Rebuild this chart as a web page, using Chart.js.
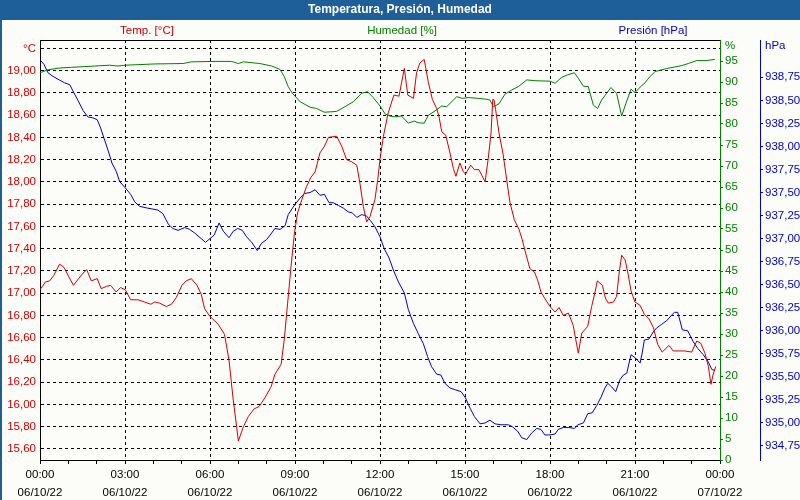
<!DOCTYPE html>
<html>
<head>
<meta charset="utf-8">
<script src="https://cdn.jsdelivr.net/npm/chart.js@4"></script>
<style>
  html, body { margin: 0; padding: 0; background: #fcfdf8; }
  canvas { display: block; }
</style>
</head>
<body>
<canvas id="chart" width="800" height="500"></canvas>
<script>
// hours since 00:00 06/10/22 and values
var tempHours = [0.00,0.19,0.34,0.49,0.69,0.85,1.01,1.18,1.36,1.52,1.65,1.81,2.02,2.16,2.34,2.49,2.69,2.84,3.01,3.20,3.46,3.69,3.91,4.05,4.22,4.46,4.64,4.81,5.01,5.16,5.34,5.54,5.69,5.81,6.00,6.29,6.51,6.67,6.82,6.94,7.00,7.18,7.35,7.56,7.73,7.94,8.16,8.29,8.51,8.62,8.74,8.86,8.98,9.09,9.24,9.41,9.56,9.71,9.88,10.04,10.18,10.47,10.65,10.82,11.00,11.18,11.29,11.41,11.53,11.65,11.82,11.92,12.00,12.12,12.29,12.49,12.67,12.76,12.86,12.98,13.18,13.29,13.41,13.56,13.71,13.85,14.00,14.08,14.18,14.32,14.47,14.59,14.68,14.82,14.94,15.02,15.20,15.33,15.49,15.59,15.71,15.82,15.92,15.98,16.02,16.08,16.20,16.35,16.47,16.59,16.74,16.91,17.02,17.14,17.29,17.45,17.56,17.68,17.82,18.00,18.18,18.32,18.47,18.65,18.82,18.91,19.00,19.12,19.33,19.47,19.59,19.67,19.85,19.96,20.06,20.24,20.35,20.44,20.53,20.65,20.75,20.86,21.00,21.18,21.33,21.49,21.65,21.80,21.96,22.20,22.35,22.76,23.00,23.18,23.32,23.47,23.59,23.68,23.76,23.85];
var tempValues = [17.03,17.10,17.11,17.16,17.26,17.23,17.15,17.07,17.13,17.18,17.21,17.11,17.13,17.04,17.06,17.07,17.01,17.05,17.03,16.94,16.94,16.92,16.90,16.92,16.91,16.88,16.90,16.96,17.07,17.11,17.13,17.07,16.99,16.86,16.79,16.72,16.63,16.40,16.04,15.80,15.67,15.80,15.89,15.96,15.98,16.06,16.16,16.27,16.36,16.58,16.91,17.24,17.54,17.72,17.84,17.96,18.04,18.09,18.26,18.32,18.40,18.41,18.32,18.20,18.18,18.15,17.99,17.78,17.64,17.69,17.84,18.02,18.20,18.41,18.62,18.78,18.77,18.89,19.02,18.78,18.75,18.98,19.07,19.10,18.89,18.74,18.66,18.59,18.45,18.42,18.26,18.12,18.05,18.17,18.09,18.07,18.15,18.11,18.11,18.06,18.00,18.21,18.44,18.74,18.74,18.65,18.44,18.24,18.02,17.81,17.66,17.57,17.48,17.36,17.22,17.19,17.12,17.01,16.95,16.88,16.83,16.87,16.80,16.82,16.71,16.58,16.46,16.64,16.70,16.88,17.01,17.11,17.07,16.95,16.91,16.92,16.97,17.18,17.34,17.30,17.18,17.02,16.92,16.89,16.81,16.77,16.69,16.54,16.47,16.53,16.48,16.48,16.47,16.57,16.55,16.46,16.34,16.18,16.27,16.34];

var humHours = [0.00,0.28,0.64,1.11,1.93,2.46,2.75,3.01,4.05,5.05,5.34,6.18,6.76,7.00,7.18,7.76,8.18,8.47,8.62,8.76,8.91,9.18,9.53,9.76,10.04,10.47,10.76,11.06,11.35,11.56,11.76,12.00,12.18,12.35,12.53,12.76,13.00,13.21,13.35,13.56,13.71,13.94,14.18,14.35,14.71,14.91,15.12,15.47,15.76,15.88,16.00,16.20,16.41,16.65,16.88,17.18,17.47,18.00,18.18,18.41,18.62,18.86,19.00,19.18,19.35,19.53,19.68,19.82,20.00,20.15,20.35,20.53,20.68,20.86,21.00,21.14,21.35,21.53,21.71,22.12,22.65,22.88,23.18,23.53,23.82];
var humValues = [92.2,92.9,93.3,93.5,93.8,94.0,93.8,94.0,94.3,94.4,94.8,94.9,94.9,94.4,94.8,94.4,93.8,93.0,91.3,88.9,87.3,85.3,84.0,83.7,82.8,83.0,84.1,85.3,87.3,87.7,86.3,84.3,82.4,81.9,81.7,81.9,80.2,80.7,80.3,80.2,82.1,83.1,84.3,84.1,86.5,86.1,86.3,86.1,85.9,85.7,84.1,84.8,87.1,88.1,88.9,90.5,90.3,90.2,89.7,91.1,91.7,92.2,90.9,89.0,88.9,84.5,83.7,85.7,87.3,88.7,87.3,81.9,84.9,88.3,87.5,88.5,89.8,91.3,92.5,93.2,93.9,94.4,95.1,95.1,95.4];

var presHours = [0.00,0.14,0.28,0.46,0.69,0.87,1.05,1.20,1.34,1.52,1.69,1.87,2.02,2.14,2.28,2.42,2.54,2.69,2.81,3.01,3.20,3.34,3.52,3.81,4.16,4.34,4.52,4.69,4.87,5.11,5.28,5.46,5.69,5.84,6.00,6.15,6.32,6.47,6.67,6.82,6.98,7.14,7.29,7.47,7.67,7.82,8.00,8.15,8.29,8.47,8.65,8.76,8.91,9.02,9.18,9.34,9.53,9.71,9.88,10.04,10.20,10.35,10.53,10.71,10.88,11.02,11.18,11.35,11.51,11.65,11.82,12.00,12.15,12.32,12.47,12.65,12.86,13.00,13.18,13.35,13.53,13.68,13.82,14.00,14.15,14.29,14.47,14.65,14.86,15.02,15.18,15.33,15.53,15.71,15.88,16.06,16.27,16.53,16.67,16.86,17.00,17.18,17.35,17.53,17.68,17.82,18.00,18.18,18.29,18.47,18.67,18.86,18.98,19.18,19.33,19.49,19.65,19.80,19.94,20.04,20.18,20.32,20.47,20.59,20.71,20.79,20.86,21.00,21.18,21.26,21.33,21.49,21.65,21.76,21.94,22.12,22.29,22.39,22.51,22.67,22.86,23.06,23.21,23.41,23.59,23.71,23.82];
var presValues = [938.94,938.89,938.80,938.76,938.72,938.69,938.67,938.58,938.50,938.39,938.32,938.31,938.29,938.20,938.07,937.94,937.82,937.73,937.62,937.55,937.48,937.40,937.35,937.33,937.31,937.27,937.16,937.11,937.09,937.12,937.10,937.06,937.00,936.96,937.00,937.04,937.17,937.08,937.01,937.08,937.11,937.09,937.02,936.96,936.87,936.95,936.99,937.05,937.11,937.10,937.14,937.26,937.33,937.38,937.44,937.49,937.50,937.53,937.47,937.48,937.39,937.39,937.36,937.33,937.29,937.28,937.23,937.26,937.25,937.20,937.13,937.02,936.89,936.79,936.66,936.53,936.41,936.23,936.08,935.97,935.86,935.72,935.61,935.53,935.52,935.43,935.38,935.36,935.34,935.27,935.16,935.07,934.99,935.00,935.03,934.99,934.98,934.98,934.96,934.91,934.84,934.82,934.89,934.94,934.93,934.87,934.87,934.88,934.93,934.95,934.95,934.94,934.98,935.00,935.10,935.11,935.19,935.28,935.38,935.43,935.39,935.34,935.47,935.52,935.54,935.65,935.74,935.71,935.65,935.77,935.90,935.91,935.99,936.03,936.07,936.11,936.17,936.20,936.20,936.01,936.00,935.88,935.81,935.74,935.66,935.58,935.57];

// axis ticks
var timeTicks = ['00:00','03:00','06:00','09:00','12:00','15:00','18:00','21:00','00:00'];
var dateTicks = ['06/10/22','06/10/22','06/10/22','06/10/22','06/10/22','06/10/22','06/10/22','06/10/22','07/10/22'];
var tempTicks = [15.6,15.8,16.0,16.2,16.4,16.6,16.8,17.0,17.2,17.4,17.6,17.8,18.0,18.2,18.4,18.6,18.8,19.0,19.2];
var humTicks = [0,5,10,15,20,25,30,35,40,45,50,55,60,65,70,75,80,85,90,95];
var presTicks = [934.75,935.00,935.25,935.50,935.75,936.00,936.25,936.50,936.75,937.00,937.25,937.50,937.75,938.00,938.25,938.50,938.75];

var RED = '#d20000', GREEN = '#008000', BLUE = '#0000c8';
var FONT = "'Liberation Sans', Arial, sans-serif";

function pts(xs, ys) {
  return xs.map(function (x, i) { return { x: x, y: ys[i] }; });
}
function comma(v) { return v.toFixed(2).replace('.', ','); }

var frame = {
  id: 'frame',
  beforeDraw: function (chart) {
    var ctx = chart.ctx;
    ctx.save();
    ctx.fillStyle = '#fcfdf8';
    ctx.fillRect(0, 0, 800, 500);
    ctx.fillStyle = '#1f5f99';
    ctx.fillRect(0, 0, 800, 20);
    ctx.fillRect(0, 20, 2, 480);
    ctx.restore();
  },
  afterDraw: function (chart) {
    var ctx = chart.ctx, a = chart.chartArea;
    ctx.save();
    ctx.strokeStyle = '#000';
    ctx.lineWidth = 1;
    ctx.beginPath();
    ctx.moveTo(a.left, a.top + 0.5);
    ctx.lineTo(a.right, a.top + 0.5);
    ctx.stroke();

    ctx.textBaseline = 'middle';
    ctx.textAlign = 'center';
    ctx.fillStyle = '#ffffff';
    ctx.font = 'bold 12px ' + FONT;
    ctx.fillText('Temperatura, Presión, Humedad', 400, 10);

    ctx.font = '11.5px ' + FONT;
    ctx.fillStyle = RED;
    ctx.fillText('Temp. [°C]', 147, 31);
    ctx.fillStyle = GREEN;
    ctx.fillText('Humedad [%]', 402, 31);
    ctx.fillStyle = BLUE;
    ctx.fillText('Presión [hPa]', 653, 31);

    ctx.textAlign = 'left';
    ctx.fillStyle = GREEN;
    ctx.fillText('%', 725, 46);
    ctx.fillStyle = BLUE;
    ctx.fillText('hPa', 765, 46);
    ctx.restore();
  }
};

var ctx = document.getElementById('chart').getContext('2d');
new Chart(ctx, {
  type: 'line',
  data: {
    datasets: [
      { label: 'Temp. [°C]', data: pts(tempHours, tempValues), yAxisID: 'yT',
        borderColor: RED, borderWidth: 1, pointRadius: 0, tension: 0 },
      { label: 'Humedad [%]', data: pts(humHours, humValues), yAxisID: 'yH',
        borderColor: GREEN, borderWidth: 1, pointRadius: 0, tension: 0 },
      { label: 'Presión [hPa]', data: pts(presHours, presValues), yAxisID: 'yP',
        borderColor: BLUE, borderWidth: 1, pointRadius: 0, tension: 0 }
    ]
  },
  options: {
    responsive: false,
    animation: false,
    layout: { padding: { top: 40, left: 0, right: 0, bottom: 0 } },
    plugins: { legend: { display: false }, title: { display: false }, tooltip: { enabled: false } },
    scales: {
      x: {
        type: 'linear', min: 0, max: 24,
        afterFit: function (s) { s.height = 40; },
        border: { color: '#000', dash: [3, 3] },
        grid: {
          color: function (c) {
            var v = c.tick ? c.tick.value : 0;
            return (v % 3 === 0 && v > 0 && v < 24) ? '#000' : 'rgba(0,0,0,0)';
          },
          tickColor: '#000', tickLength: 4, drawTicks: true
        },
        ticks: {
          stepSize: 1, autoSkip: false, maxRotation: 0, padding: 2,
          color: '#000', font: { family: FONT, size: 11.5, lineHeight: 1.55 },
          callback: function (v) {
            if (v % 3 !== 0) return '';
            return [timeTicks[v / 3], dateTicks[v / 3]];
          }
        }
      },
      yT: {
        position: 'left', min: 15.50, max: 19.275,
        afterFit: function (s) { s.width = 40; },
        afterBuildTicks: function (s) { s.ticks = tempTicks.map(function (v) { return { value: v }; }); },
        border: { color: '#000', dash: [3, 3] },
        grid: { color: '#000', drawTicks: false },
        ticks: {
          padding: 4, color: RED, font: { family: FONT, size: 11.5 },
          callback: function (v) { return Math.abs(v - 19.2) < 0.001 ? '°C' : comma(v); }
        }
      },
      yH: {
        position: 'right', weight: 0, min: 0, max: 100,
        afterFit: function (s) { s.width = 40; },
        afterBuildTicks: function (s) { s.ticks = humTicks.map(function (v) { return { value: v }; }); },
        border: { color: GREEN, width: 1 },
        grid: { drawOnChartArea: false, drawTicks: true, tickLength: 3, tickColor: GREEN },
        ticks: { padding: 2, color: GREEN, font: { family: FONT, size: 11.5 } }
      },
      yP: {
        position: 'right', weight: 1, min: 934.598, max: 939.155,
        afterFit: function (s) { s.width = 40; },
        afterBuildTicks: function (s) { s.ticks = presTicks.map(function (v) { return { value: v }; }); },
        border: { color: BLUE, width: 1 },
        grid: { drawOnChartArea: false, drawTicks: true, tickLength: 3, tickColor: BLUE },
        ticks: {
          padding: 2, color: BLUE, font: { family: FONT, size: 11.5 },
          callback: function (v) { return comma(v); }
        }
      }
    }
  },
  plugins: [frame]
});
</script>
</body>
</html>
